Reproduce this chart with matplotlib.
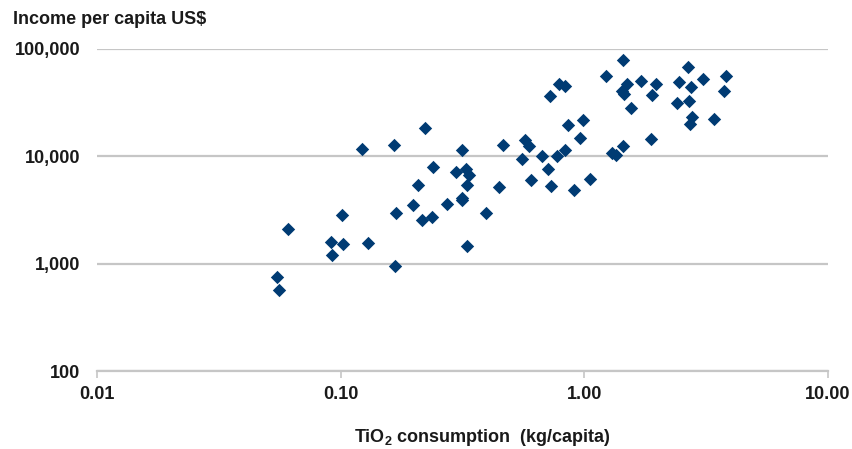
import matplotlib
matplotlib.use("Agg")
import matplotlib.pyplot as plt
from matplotlib.ticker import FixedLocator, FixedFormatter, NullLocator

plt.rcParams['font.family'] = ['Liberation Sans', 'DejaVu Sans']
plt.rcParams['mathtext.fontset'] = 'custom'
plt.rcParams['mathtext.rm'] = 'Liberation Sans:bold'
plt.rcParams['mathtext.bf'] = 'Liberation Sans:bold'
plt.rcParams['mathtext.default'] = 'bf'

# TiO2 consumption (kg/capita)
tio2 = [0.0550, 0.0560, 0.0606, 0.0910, 0.0918, 0.1016, 0.1019, 0.1220, 0.1298,
        0.1671, 0.1655, 0.1687, 0.1987, 0.2083, 0.2150, 0.2377, 0.2218, 0.2386,
        0.2723, 0.2973, 0.3139, 0.3139, 0.3139, 0.3269, 0.3373, 0.3290, 0.3290,
        0.3949, 0.4477, 0.4650, 0.5708, 0.5944, 0.5533, 0.6025, 0.6683, 0.7113,
        0.7300, 0.7232, 0.7721, 0.8327, 0.7892, 0.8327, 0.8597, 0.9071, 0.9598,
        0.9903, 1.055, 1.233, 1.295, 1.349, 1.445, 1.492, 1.423, 1.455, 1.445,
        1.549, 1.704, 1.890, 1.968, 1.877, 2.407, 2.446, 2.651, 2.698, 2.740,
        2.758, 2.714, 3.060, 3.415, 3.752, 3.812]
# Income per capita US$
income = [745, 571, 2110, 1606, 1213, 2870, 1528, 11800, 1549,
          944, 12860, 2978, 3484, 5357, 2561, 2708, 18540, 7943,
          3559, 7135, 11380, 4111, 3878, 7674, 6714, 5357, 1473,
          2997, 5133, 12670, 14110, 12400, 9476, 6057, 10110, 7560,
          5244, 36370, 10000, 11380, 46770, 45400, 19790, 4864, 14950,
          21700, 6095, 55950, 10670, 10220, 78900, 47080, 40500, 37730, 12590,
          27910, 50550, 37150, 47080, 14630, 31490, 49460, 67900, 32870, 43850,
          23400, 20210, 52100, 22500, 40750, 55950]

x_ticks = [0.01, 0.1, 1, 10]
x_labels = ['0.01', '0.10', '1.00', '10.00']
y_ticks = [100, 1000, 10000, 100000]
y_labels = ['100', '1,000', '10,000', '100,000']

title = 'Income per capita US$'
xlabel = r'TiO$_\mathbf{2}$ consumption  (kg/capita)'

grid_color = '#c6c6c6'
text_color = '#1a1a1a'
marker_color = '#003b73'

fig = plt.figure(figsize=(8.52, 4.49), dpi=100)
ax = fig.add_axes([97/852, 1-371/449, (828-97)/852, (371-49)/449])

ax.set_xscale('log')
ax.set_yscale('log')
ax.set_xlim(0.01, 10)
ax.set_ylim(100, 100000)

ax.scatter(tio2, income, marker='D', s=6.8**2, color=marker_color,
           linewidths=0, zorder=3)

ax.xaxis.set_major_locator(FixedLocator(x_ticks))
ax.xaxis.set_major_formatter(FixedFormatter(x_labels))
ax.xaxis.set_minor_locator(NullLocator())
ax.yaxis.set_major_locator(FixedLocator(y_ticks))
ax.yaxis.set_major_formatter(FixedFormatter(y_labels))
ax.yaxis.set_minor_locator(NullLocator())

ax.grid(axis='y', color=grid_color, linewidth=1.6, zorder=0)
ax.set_axisbelow(True)
for s in ['top', 'right', 'left']:
    ax.spines[s].set_visible(False)
ax.spines['bottom'].set_color(grid_color)
ax.spines['bottom'].set_linewidth(1.6)

ax.tick_params(axis='x', direction='out', length=5, width=1.2, color=grid_color,
               pad=6, labelsize=13, labelcolor=text_color)
ax.tick_params(axis='y', length=0, pad=12, labelsize=13, labelcolor=text_color)
for lab in ax.get_xticklabels() + ax.get_yticklabels():
    lab.set_fontweight('bold')

fig.text(13/852, 1-20/449, title, fontsize=13, fontweight='bold',
         color=text_color, ha='left', va='center')
fig.text(482/852, 1-438/449, xlabel, fontsize=13, fontweight='bold',
         color=text_color, ha='center', va='center')

fig.savefig('out.png', dpi=100, facecolor='white')
